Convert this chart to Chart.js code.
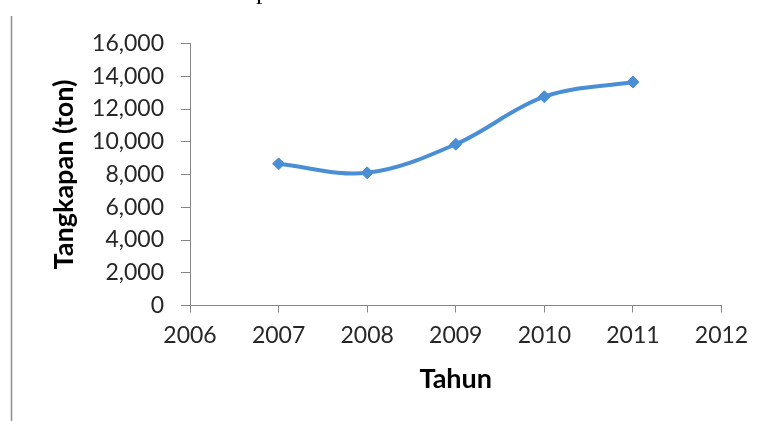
<!DOCTYPE html>
<html>
<head>
<meta charset="utf-8">
<title>Tangkapan per Tahun</title>
<script src="https://cdn.jsdelivr.net/npm/chart.js@4/dist/chart.umd.min.js"></script>
<style>
  html, body { margin: 0; padding: 0; background: #ffffff; }
  canvas { display: block; }
</style>
</head>
<body>
<canvas id="c" width="767" height="421"></canvas>
<script>
// Annual catch (tons)
const years = [2007, 2008, 2009, 2010, 2011];
const catchTons = [8650, 8100, 9850, 12750, 13650];

// Axis ranges and tick labels
const xRange = [2006, 2012];
const yTicks = [0, 2000, 4000, 6000, 8000, 10000, 12000, 14000, 16000];
const yTickLabels = ['0', '2,000', '4,000', '6,000', '8,000', '10,000', '12,000', '14,000', '16,000'];

const xTitle = 'Tahun';
const yTitle = 'Tangkapan (ton)';
const headingTail = 'p';

const lineBlue = '#4a8fd6';
const axisGrey = '#868686';
const tickFont = { family: 'Lato', size: 23 };
const titleFont = { family: 'Lato', size: 27, weight: 'bold' };

// Page frame line on the left and the clipped heading glyph above the chart
const pageDecor = {
  id: 'pageDecor',
  beforeDraw(chart) {
    const ctx = chart.ctx;
    ctx.save();
    ctx.fillStyle = '#ffffff';
    ctx.fillRect(0, 0, chart.width, chart.height);
    ctx.strokeStyle = '#8f8f8f';
    ctx.lineWidth = 1.5;
    ctx.beginPath();
    ctx.moveTo(11.5, 16);
    ctx.lineTo(11.5, chart.height);
    ctx.stroke();
    ctx.fillStyle = '#000000';
    ctx.font = '26px "Liberation Serif"';
    ctx.textBaseline = 'alphabetic';
    ctx.textAlign = 'left';
    ctx.fillText(headingTail, 256, -0.7);
    ctx.restore();
  }
};

new Chart(document.getElementById('c'), {
  type: 'line',
  data: {
    datasets: [{
      data: years.map((y, i) => ({ x: y, y: catchTons[i] })),
      borderColor: lineBlue,
      backgroundColor: lineBlue,
      borderWidth: 4,
      tension: 0.35,
      pointStyle: 'rectRot',
      pointRadius: 6,
      pointBorderWidth: 1,
      pointBorderColor: lineBlue,
      pointBackgroundColor: lineBlue,
      fill: false,
      clip: false
    }]
  },
  options: {
    responsive: false,
    animation: false,
    devicePixelRatio: 1,
    layout: { padding: { top: 43.5, right: 45.5, bottom: 0, left: 0 } },
    plugins: {
      legend: { display: false },
      tooltip: { enabled: false }
    },
    scales: {
      x: {
        type: 'linear',
        min: xRange[0],
        max: xRange[1],
        afterFit(scale) { scale.height = 115.5; },
        border: { display: true, color: axisGrey, width: 1 },
        grid: { drawOnChartArea: false, drawTicks: true, tickLength: 7, color: axisGrey },
        ticks: {
          stepSize: 1,
          padding: 9.7,
          color: '#262626',
          font: tickFont,
          maxRotation: 0,
          callback: (v) => String(v)
        },
        title: {
          display: true,
          text: xTitle,
          color: '#000000',
          font: titleFont,
          padding: { top: 0, bottom: 25.8 }
        }
      },
      y: {
        min: yTicks[0],
        max: yTicks[yTicks.length - 1],
        afterFit(scale) { scale.width = 190; },
        afterBuildTicks(scale) { scale.ticks = yTicks.map(v => ({ value: v })); },
        border: { display: true, color: axisGrey, width: 1 },
        grid: { drawOnChartArea: false, drawTicks: true, tickLength: 9, color: axisGrey },
        ticks: {
          padding: 17,
          color: '#262626',
          font: tickFont,
          callback: (v) => yTickLabels[yTicks.indexOf(v)]
        },
        title: {
          display: true,
          text: yTitle,
          color: '#000000',
          font: titleFont,
          padding: { top: 48, bottom: 0 }
        }
      }
    }
  },
  plugins: [pageDecor]
});
</script>
</body>
</html>
